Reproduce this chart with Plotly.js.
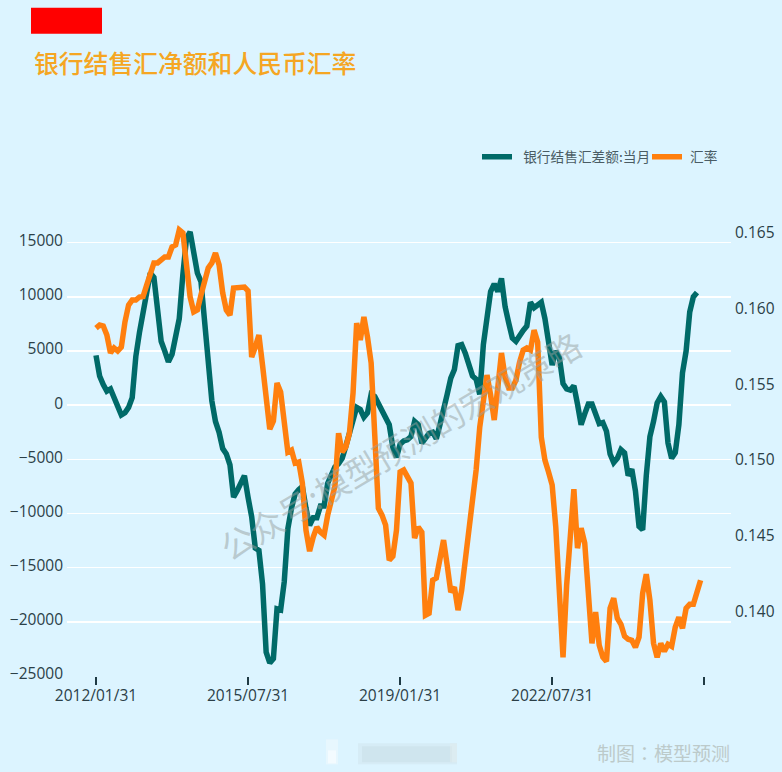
<!DOCTYPE html>
<html><head><meta charset="utf-8">
<script src="https://cdn.plot.ly/plotly-3.0.1.min.js"></script>
<style>html,body{margin:0;padding:0;background:#dcf4ff}</style></head>
<body><div id="chart" style="width:782px;height:772px"></div>
<script>
const seriesNet = "  银行结售汇差额:当月";
const seriesRate = " 汇率";
const xTickLabels = ["2012/01/31","2015/07/31","2019/01/31","2022/07/31",""];
const xTickIndex = [0,42,84,126,168];
const netValues = [4600,2700,1900,1300,1500,600,-300,-900,-700,-200,700,4500,6700,8800,10500,12200,11800,8400,5900,5000,4000,4700,6500,8000,12100,15400,16000,14200,12200,11400,7500,4000,400,-1500,-2500,-4000,-4500,-5500,-8500,-7900,-7300,-6500,-8500,-10300,-13200,-13400,-16500,-22800,-23800,-23400,-18800,-18900,-16300,-11400,-9500,-8200,-7800,-7500,-9500,-11100,-10400,-10400,-9300,-9300,-7200,-6500,-5700,-5400,-4900,-3800,-2700,-1200,-200,-400,-1100,-700,1000,800,200,-400,-1200,-1800,-3900,-4800,-3600,-3300,-3200,-2900,-1500,-1800,-3500,-3100,-2600,-2500,-3100,-1800,-600,1000,2500,3300,5500,5600,4800,3800,2700,2400,1000,5600,8400,10500,11200,10500,11700,9100,7600,6200,5900,6500,6900,7300,9500,9000,9300,9500,8000,5500,3700,5000,4400,2000,1500,1400,1800,100,-1800,-800,100,100,-1000,-1700,-1600,-2400,-4500,-5300,-4900,-4100,-4400,-6500,-5900,-7900,-11200,-11500,-6500,-2900,-1500,200,800,300,-3500,-4900,-4400,-1800,3000,5000,8600,10000,10400];
const rateValues = [.15865,.15885,.15878,.15819,.15700,.15733,.15713,.15739,.15905,.16017,.16050,.16050,.16070,.16073,.16149,.16235,.16295,.16295,.16321,.16335,.16335,.16401,.16414,.16513,.16493,.16268,.16070,.15971,.15984,.16083,.16176,.16262,.16295,.16361,.16282,.16097,.15984,.15951,.16130,.16130,.16130,.16136,.16110,.15673,.15739,.15819,.15620,.15389,.15197,.15250,.15501,.15442,.15204,.15045,.15058,.14972,.14979,.14840,.14529,.14390,.14483,.14549,.14516,.14496,.14628,.14747,.14820,.15170,.15045,.15078,.15170,.15435,.15898,.15786,.15938,.15805,.15634,.15157,.14674,.14628,.14562,.14331,.14357,.14529,.14913,.14926,.14886,.14840,.14476,.14549,.14516,.13967,.13980,.14198,.14212,.14344,.14463,.14298,.14119,.14152,.14000,.14132,.14331,.14595,.14740,.14926,.15210,.15356,.15554,.15422,.15257,.15475,.15700,.15541,.15468,.15468,.15521,.15640,.15719,.15733,.15719,.15851,.15772,.15144,.14992,.14913,.14827,.14549,.14132,.13689,.14165,.14443,.14800,.14410,.14542,.14443,.14066,.13781,.13987,.13768,.13689,.13662,.14013,.14079,.13947,.13907,.13828,.13808,.13801,.13755,.13821,.14112,.14238,.14066,.13781,.13689,.13781,.13728,.13775,.13761,.13887,.13953,.13880,.14013,.14039,.14039,.14119,.14198];
const leftTicks = [15000,10000,5000,0,-5000,-10000,-15000,-20000,-25000];
const rightTicks = [.165,.160,.155,.150,.145,.140];
const titleText = "银行结售汇净额和人民币汇率";
const watermark = "公众号:模型预测的宏观策略";
const credit = "制图：模型预测";

const W=782,H=772,L=67,R=731,T=225,B=675.7;
const px=x=>(x-L)/(R-L), py=y=>(B-y)/(B-T);
const rect=(x0,y0,x1,y1,c,o)=>({type:'rect',xref:'paper',yref:'paper',x0:px(x0),x1:px(x1),y0:py(y1),y1:py(y0),fillcolor:c,opacity:o==null?1:o,line:{width:0},layer:'above'});
const font="Open Sans", cjk="'Noto Sans CJK SC'", cjkTC="'Noto Sans CJK TC'";
const textColor="#2b3f47";

const data=[
 {x:netValues.map((_,i)=>i),y:netValues,name:seriesNet,type:'scatter',mode:'lines',line:{color:'#006a68',width:5.5},yaxis:'y',hoverinfo:'skip'},
 {x:rateValues.map((_,i)=>i),y:rateValues,name:seriesRate,type:'scatter',mode:'lines',line:{color:'#ff7f0e',width:5.5},yaxis:'y2',hoverinfo:'skip'}
];
const layout={
 width:W,height:H,paper_bgcolor:'#dcf4ff',plot_bgcolor:'#dcf4ff',
 margin:{l:L,r:W-R,t:T,b:H-B,pad:0,autoexpand:false},
 title:{text:titleText,x:34/W,xanchor:'left',xref:'container',y:1-64/H,yanchor:'middle',yref:'container',font:{family:cjk,size:24.8,color:'#f5a623',weight:500}},
 showlegend:true,
 legend:{orientation:'h',x:px(477),xanchor:'left',y:py(157),yanchor:'middle',font:{family:cjk,size:13.7,color:'#4a5c64'},bgcolor:'rgba(0,0,0,0)',itemwidth:30,traceorder:'normal',entrywidth:125,entrywidthmode:'pixels'},
 xaxis:{range:[-8.01,175.4],tickmode:'array',tickvals:xTickIndex,ticktext:xTickLabels,ticks:'outside',ticklen:8,tickwidth:2,tickcolor:'#1f3a44',showgrid:false,zeroline:false,showline:false,tickfont:{family:font,size:15.5,color:textColor},ticklabelstandoff:-3},
 yaxis:{range:[-25000,16636],tickmode:'array',tickvals:leftTicks,tickformat:'d',showgrid:true,gridcolor:'#ffffff',gridwidth:1.5,zeroline:false,showline:false,ticks:'',tickfont:{family:font,size:15.5,color:textColor},ticklabelstandoff:3,ticklabelshift:-2},
 yaxis2:{range:[.13565,.16546],overlaying:'y',side:'right',tickmode:'array',tickvals:rightTicks,tickformat:'.3f',showgrid:false,zeroline:false,showline:false,ticks:'',tickfont:{family:font,size:15.5,color:textColor},ticklabelstandoff:3,ticklabelshift:1},
 shapes:[
  rect(31,8,102,34,'#ff0000'),
  rect(326,739,338,764,'#eef9fe',.6),
  rect(328,750,336,763,'#ffffff',.5),
  rect(358,743,457,764,'#cfe3ea',.45),
  rect(362,746,452,762,'#c5dbe3',.4),
  rect(450,743,457,762,'#e2ecec',.5)
 ],
 annotations:[
  {text:watermark,xref:'paper',yref:'paper',x:px(399),y:py(445),showarrow:false,textangle:-30.5,font:{family:cjk,size:33.5,color:'rgba(150,160,160,0.5)'}},
  {text:credit,xref:'paper',yref:'paper',x:px(732),y:py(752),xanchor:'right',yanchor:'middle',showarrow:false,font:{family:cjkTC,size:19,color:'#bccaca'}}
 ]
};
Plotly.newPlot('chart',data,layout,{displayModeBar:false,staticPlot:true});
</script></body></html>
